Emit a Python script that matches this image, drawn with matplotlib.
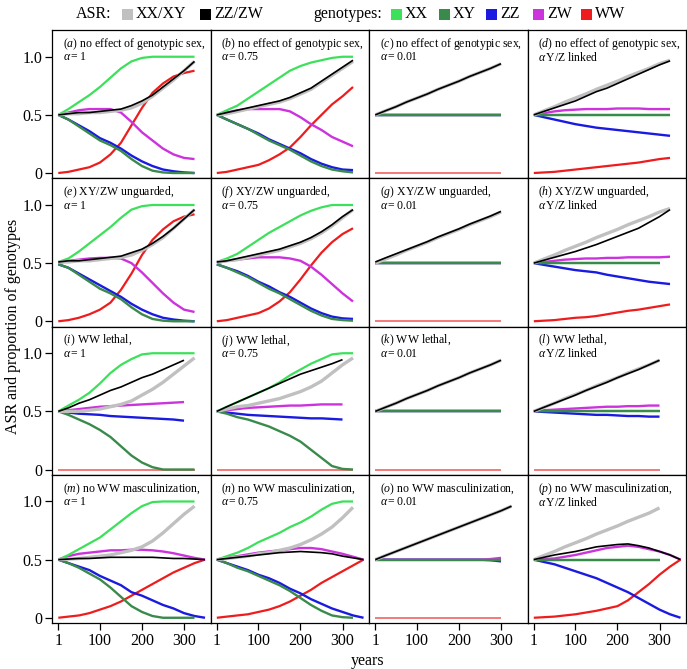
import matplotlib
matplotlib.use("Agg")
import matplotlib.pyplot as plt
from matplotlib.patches import Rectangle

plt.rcParams['font.family'] = 'Liberation Serif'
plt.rcParams['mathtext.fontset'] = 'custom'
plt.rcParams['mathtext.rm'] = 'Liberation Serif'
plt.rcParams['mathtext.it'] = 'Liberation Serif:italic'

# sampling years (series use the first n entries)
YEARS = [1, 25, 50, 75, 100, 125, 150, 175, 200, 225, 250, 275, 300, 325, 350]

# ---- (a) no effect of genotypic sex, alpha = 1
a_asr_x = [0.50, 0.51, 0.51, 0.52, 0.52, 0.53, 0.54, 0.56, 0.60, 0.66, 0.73, 0.80, 0.88, 0.96]
a_asr_z = [0.50, 0.51, 0.52, 0.52, 0.53, 0.54, 0.55, 0.58, 0.62, 0.67, 0.74, 0.81, 0.88, 0.96]
a_xx = [0.50, 0.55, 0.61, 0.67, 0.74, 0.82, 0.90, 0.96, 0.99, 1.0, 1.0, 1.0, 1.0, 1.0]
a_xy = [0.50, 0.46, 0.40, 0.34, 0.28, 0.24, 0.19, 0.12, 0.06, 0.02, 0.005, 0, 0, 0]
a_zz = [0.50, 0.46, 0.41, 0.36, 0.30, 0.26, 0.21, 0.15, 0.10, 0.06, 0.03, 0.015, 0.005, 0]
a_zw = [0.50, 0.52, 0.54, 0.55, 0.55, 0.55, 0.52, 0.44, 0.35, 0.28, 0.21, 0.16, 0.13, 0.12]
a_ww = [0, 0.01, 0.03, 0.05, 0.09, 0.16, 0.26, 0.41, 0.56, 0.69, 0.77, 0.83, 0.86, 0.88]

# ---- (b) no effect of genotypic sex, alpha = 0.75
b_asr_x = [0.50, 0.51, 0.53, 0.55, 0.57, 0.59, 0.61, 0.64, 0.68, 0.72, 0.78, 0.84, 0.90, 0.96]
b_asr_z = [0.50, 0.52, 0.54, 0.56, 0.58, 0.60, 0.62, 0.65, 0.69, 0.73, 0.79, 0.85, 0.91, 0.97]
b_xx = [0.50, 0.54, 0.58, 0.64, 0.70, 0.76, 0.82, 0.88, 0.92, 0.95, 0.97, 0.99, 1.0, 1.0]
b_xy = [0.50, 0.46, 0.42, 0.38, 0.33, 0.28, 0.24, 0.20, 0.15, 0.10, 0.06, 0.03, 0.015, 0.005]
b_zz = [0.50, 0.46, 0.42, 0.38, 0.34, 0.29, 0.25, 0.21, 0.17, 0.12, 0.08, 0.05, 0.03, 0.025]
b_zw = [0.50, 0.52, 0.54, 0.55, 0.55, 0.55, 0.55, 0.53, 0.48, 0.42, 0.37, 0.31, 0.27, 0.23]
b_ww = [0, 0.01, 0.03, 0.05, 0.07, 0.11, 0.16, 0.22, 0.31, 0.41, 0.50, 0.59, 0.66, 0.74]

# ---- (c) no effect of genotypic sex, alpha = 0.01
c_asr_x = [0.50, 0.535, 0.57, 0.61, 0.645, 0.68, 0.72, 0.755, 0.79, 0.83, 0.865, 0.90, 0.94]
c_asr_z = [0.50, 0.535, 0.57, 0.61, 0.645, 0.68, 0.72, 0.755, 0.79, 0.83, 0.865, 0.90, 0.94]
c_xx = [0.50, 0.50, 0.50, 0.50, 0.50, 0.50, 0.50, 0.50, 0.50, 0.50, 0.50, 0.50, 0.50]
c_xy = [0.50, 0.50, 0.50, 0.50, 0.50, 0.50, 0.50, 0.50, 0.50, 0.50, 0.50, 0.50, 0.50]
c_zz = [0.50, 0.50, 0.50, 0.50, 0.50, 0.50, 0.50, 0.50, 0.50, 0.50, 0.50, 0.50, 0.50]
c_zw = [0.50, 0.50, 0.50, 0.50, 0.50, 0.50, 0.50, 0.50, 0.50, 0.50, 0.50, 0.50, 0.50]
c_ww = [0, 0, 0, 0, 0, 0, 0, 0, 0, 0, 0, 0, 0]

# ---- (d) no effect of genotypic sex, alpha Y/Z linked
d_asr_x = [0.50, 0.535, 0.57, 0.61, 0.645, 0.68, 0.72, 0.755, 0.79, 0.83, 0.865, 0.90, 0.94, 0.97]
d_asr_z = [0.50, 0.53, 0.56, 0.59, 0.62, 0.66, 0.70, 0.73, 0.77, 0.81, 0.85, 0.89, 0.93, 0.965]
d_xx = [0.50, 0.50, 0.50, 0.50, 0.50, 0.50, 0.50, 0.50, 0.50, 0.50, 0.50, 0.50, 0.50, 0.50]
d_xy = [0.50, 0.50, 0.50, 0.50, 0.50, 0.50, 0.50, 0.50, 0.50, 0.50, 0.50, 0.50, 0.50, 0.50]
d_zz = [0.50, 0.48, 0.46, 0.44, 0.42, 0.405, 0.39, 0.38, 0.37, 0.36, 0.35, 0.34, 0.33, 0.32]
d_zw = [0.50, 0.515, 0.53, 0.54, 0.545, 0.55, 0.55, 0.55, 0.555, 0.555, 0.555, 0.55, 0.55, 0.55]
d_ww = [0, 0.005, 0.01, 0.02, 0.03, 0.04, 0.05, 0.06, 0.07, 0.08, 0.09, 0.105, 0.12, 0.13]

# ---- (e) XY/ZW unguarded, alpha = 1
e_asr_x = [0.51, 0.51, 0.52, 0.52, 0.53, 0.54, 0.55, 0.57, 0.61, 0.66, 0.72, 0.80, 0.88, 0.96]
e_asr_z = [0.51, 0.52, 0.52, 0.53, 0.54, 0.55, 0.56, 0.59, 0.62, 0.67, 0.73, 0.80, 0.88, 0.96]
e_xx = [0.51, 0.54, 0.60, 0.67, 0.74, 0.81, 0.89, 0.96, 0.99, 1.0, 1.0, 1.0, 1.0, 1.0]
e_xy = [0.49, 0.46, 0.40, 0.34, 0.28, 0.24, 0.19, 0.12, 0.06, 0.02, 0.005, 0, 0, 0]
e_zz = [0.49, 0.46, 0.41, 0.36, 0.31, 0.26, 0.21, 0.15, 0.10, 0.06, 0.03, 0.015, 0.005, 0]
e_zw = [0.50, 0.52, 0.53, 0.54, 0.545, 0.545, 0.54, 0.50, 0.42, 0.33, 0.24, 0.16, 0.10, 0.08]
e_ww = [0, 0.01, 0.03, 0.06, 0.10, 0.16, 0.27, 0.41, 0.57, 0.70, 0.79, 0.86, 0.90, 0.92]

# ---- (f) XY/ZW unguarded, alpha = 0.75
f_asr_x = [0.51, 0.52, 0.53, 0.55, 0.57, 0.59, 0.61, 0.64, 0.67, 0.71, 0.76, 0.82, 0.89, 0.96]
f_asr_z = [0.51, 0.52, 0.54, 0.56, 0.58, 0.60, 0.62, 0.65, 0.68, 0.72, 0.77, 0.83, 0.90, 0.96]
f_xx = [0.51, 0.54, 0.58, 0.64, 0.70, 0.76, 0.81, 0.86, 0.91, 0.95, 0.98, 1.0, 1.0, 1.0]
f_xy = [0.49, 0.46, 0.42, 0.38, 0.33, 0.28, 0.24, 0.19, 0.14, 0.09, 0.05, 0.02, 0.01, 0.005]
f_zz = [0.49, 0.46, 0.43, 0.39, 0.34, 0.30, 0.25, 0.21, 0.16, 0.11, 0.07, 0.04, 0.025, 0.02]
f_zw = [0.50, 0.52, 0.53, 0.54, 0.55, 0.55, 0.55, 0.54, 0.52, 0.47, 0.40, 0.32, 0.24, 0.17]
f_ww = [0, 0.01, 0.03, 0.05, 0.07, 0.11, 0.17, 0.25, 0.36, 0.48, 0.59, 0.68, 0.75, 0.80]

# ---- (g) XY/ZW unguarded, alpha = 0.01
g_asr_x = [0.50, 0.535, 0.57, 0.61, 0.645, 0.68, 0.72, 0.755, 0.79, 0.83, 0.865, 0.90, 0.94]
g_asr_z = [0.51, 0.545, 0.58, 0.615, 0.65, 0.685, 0.725, 0.76, 0.795, 0.835, 0.87, 0.905, 0.945]
g_xx = [0.50, 0.50, 0.50, 0.50, 0.50, 0.50, 0.50, 0.50, 0.50, 0.50, 0.50, 0.50, 0.50]
g_xy = [0.50, 0.50, 0.50, 0.50, 0.50, 0.50, 0.50, 0.50, 0.50, 0.50, 0.50, 0.50, 0.50]
g_zz = [0.50, 0.50, 0.50, 0.50, 0.50, 0.50, 0.50, 0.50, 0.50, 0.50, 0.50, 0.50, 0.50]
g_zw = [0.50, 0.50, 0.50, 0.50, 0.50, 0.50, 0.50, 0.50, 0.50, 0.50, 0.50, 0.50, 0.50]
g_ww = [0, 0, 0, 0, 0, 0, 0, 0, 0, 0, 0, 0, 0]

# ---- (h) XY/ZW unguarded, alpha Y/Z linked
h_asr_x = [0.50, 0.535, 0.57, 0.61, 0.645, 0.68, 0.72, 0.755, 0.79, 0.83, 0.865, 0.90, 0.94, 0.97]
h_asr_z = [0.50, 0.525, 0.55, 0.575, 0.60, 0.63, 0.66, 0.695, 0.73, 0.765, 0.80, 0.85, 0.90, 0.96]
h_xx = [0.50, 0.50, 0.50, 0.50, 0.50, 0.50, 0.50, 0.50, 0.50, 0.50, 0.50, 0.50, 0.50]
h_xy = [0.50, 0.50, 0.50, 0.50, 0.50, 0.50, 0.50, 0.50, 0.50, 0.50, 0.50, 0.50, 0.50]
h_zz = [0.50, 0.485, 0.47, 0.455, 0.44, 0.43, 0.42, 0.40, 0.385, 0.37, 0.355, 0.34, 0.33, 0.32]
h_zw = [0.50, 0.51, 0.52, 0.53, 0.535, 0.54, 0.54, 0.545, 0.545, 0.55, 0.55, 0.55, 0.55, 0.555]
h_ww = [0, 0.005, 0.01, 0.02, 0.03, 0.035, 0.045, 0.06, 0.075, 0.09, 0.10, 0.115, 0.13, 0.145]

# ---- (i) WW lethal, alpha = 1
i_asr_x = [0.50, 0.50, 0.50, 0.51, 0.52, 0.54, 0.56, 0.59, 0.64, 0.69, 0.75, 0.82, 0.89, 0.96]
i_asr_z = [0.50, 0.53, 0.57, 0.60, 0.64, 0.68, 0.71, 0.75, 0.79, 0.82, 0.86, 0.90, 0.94]
i_xx = [0.50, 0.55, 0.60, 0.66, 0.74, 0.83, 0.90, 0.95, 0.99, 1.0, 1.0, 1.0, 1.0, 1.0]
i_xy = [0.50, 0.47, 0.43, 0.39, 0.34, 0.28, 0.20, 0.12, 0.06, 0.02, 0.0, 0, 0, 0]
i_zz = [0.50, 0.49, 0.48, 0.475, 0.47, 0.46, 0.455, 0.45, 0.445, 0.44, 0.435, 0.43, 0.42]
i_zw = [0.50, 0.51, 0.52, 0.53, 0.54, 0.545, 0.55, 0.555, 0.56, 0.565, 0.57, 0.575, 0.58]
i_ww = [0, 0, 0, 0, 0, 0, 0, 0, 0, 0, 0, 0, 0, 0]

# ---- (j) WW lethal, alpha = 0.75
j_asr_x = [0.50, 0.52, 0.54, 0.55, 0.57, 0.59, 0.61, 0.64, 0.67, 0.71, 0.76, 0.83, 0.90, 0.96]
j_asr_z = [0.50, 0.54, 0.58, 0.62, 0.66, 0.70, 0.74, 0.78, 0.82, 0.85, 0.88, 0.91, 0.945]
j_xx = [0.50, 0.54, 0.58, 0.62, 0.66, 0.70, 0.75, 0.81, 0.86, 0.91, 0.95, 0.99, 1.0, 1.0]
j_xy = [0.50, 0.48, 0.45, 0.43, 0.40, 0.37, 0.33, 0.29, 0.24, 0.17, 0.10, 0.03, 0.005, 0]
j_zz = [0.50, 0.49, 0.48, 0.47, 0.465, 0.46, 0.455, 0.45, 0.445, 0.44, 0.44, 0.435, 0.43]
j_zw = [0.50, 0.51, 0.52, 0.53, 0.535, 0.54, 0.545, 0.55, 0.55, 0.555, 0.56, 0.56, 0.56]
j_ww = [0, 0, 0, 0, 0, 0, 0, 0, 0, 0, 0, 0, 0, 0]

# ---- (k) WW lethal, alpha = 0.01
k_asr_x = [0.50, 0.535, 0.57, 0.61, 0.645, 0.68, 0.72, 0.755, 0.79, 0.83, 0.865, 0.90, 0.94]
k_asr_z = [0.50, 0.535, 0.57, 0.61, 0.645, 0.68, 0.72, 0.755, 0.79, 0.83, 0.865, 0.90, 0.94]
k_xx = [0.50, 0.50, 0.50, 0.50, 0.50, 0.50, 0.50, 0.50, 0.50, 0.50, 0.50, 0.50, 0.50]
k_xy = [0.50, 0.50, 0.50, 0.50, 0.50, 0.50, 0.50, 0.50, 0.50, 0.50, 0.50, 0.50, 0.50]
k_zz = [0.50, 0.50, 0.50, 0.50, 0.50, 0.50, 0.50, 0.50, 0.50, 0.50, 0.50, 0.50, 0.50]
k_zw = [0.50, 0.50, 0.50, 0.50, 0.50, 0.50, 0.50, 0.50, 0.50, 0.50, 0.50, 0.50, 0.50]
k_ww = [0, 0, 0, 0, 0, 0, 0, 0, 0, 0, 0, 0, 0]

# ---- (l) WW lethal, alpha Y/Z linked
l_asr_x = [0.50, 0.535, 0.57, 0.61, 0.645, 0.68, 0.72, 0.755, 0.79, 0.83, 0.865, 0.90, 0.94]
l_asr_z = [0.50, 0.535, 0.57, 0.605, 0.64, 0.68, 0.715, 0.75, 0.79, 0.825, 0.86, 0.90, 0.94]
l_xx = [0.50, 0.50, 0.50, 0.50, 0.50, 0.50, 0.50, 0.50, 0.50, 0.50, 0.50, 0.50, 0.50]
l_xy = [0.50, 0.50, 0.50, 0.50, 0.50, 0.50, 0.50, 0.50, 0.50, 0.50, 0.50, 0.50, 0.50]
l_zz = [0.50, 0.495, 0.49, 0.485, 0.48, 0.475, 0.47, 0.47, 0.465, 0.46, 0.46, 0.455, 0.455]
l_zw = [0.50, 0.51, 0.515, 0.52, 0.525, 0.53, 0.535, 0.54, 0.54, 0.545, 0.545, 0.55, 0.55]
l_ww = [0, 0, 0, 0, 0, 0, 0, 0, 0, 0, 0, 0, 0]

# ---- (m) no WW masculinization, alpha = 1
m_asr_x = [0.50, 0.505, 0.51, 0.52, 0.53, 0.54, 0.56, 0.58, 0.61, 0.66, 0.73, 0.81, 0.89, 0.96]
m_asr_z = [0.50, 0.505, 0.51, 0.51, 0.515, 0.52, 0.52, 0.52, 0.52, 0.52, 0.515, 0.51, 0.51, 0.505, 0.50]
m_xx = [0.50, 0.54, 0.59, 0.64, 0.69, 0.76, 0.83, 0.90, 0.96, 0.995, 1.0, 1.0, 1.0, 1.0]
m_xy = [0.50, 0.47, 0.43, 0.38, 0.33, 0.26, 0.18, 0.10, 0.05, 0.015, 0.0, 0, 0, 0]
m_zz = [0.50, 0.47, 0.44, 0.41, 0.36, 0.32, 0.28, 0.22, 0.19, 0.15, 0.11, 0.08, 0.04, 0.015, 0.0]
m_zw = [0.50, 0.53, 0.55, 0.56, 0.57, 0.58, 0.58, 0.585, 0.585, 0.58, 0.57, 0.555, 0.535, 0.515, 0.50]
m_ww = [0, 0.01, 0.02, 0.04, 0.07, 0.10, 0.14, 0.19, 0.24, 0.29, 0.34, 0.39, 0.43, 0.47, 0.50]

# ---- (n) no WW masculinization, alpha = 0.75
n_asr_x = [0.50, 0.51, 0.52, 0.53, 0.55, 0.56, 0.58, 0.60, 0.63, 0.67, 0.72, 0.78, 0.86, 0.95]
n_asr_z = [0.50, 0.51, 0.52, 0.53, 0.54, 0.55, 0.56, 0.565, 0.57, 0.565, 0.56, 0.55, 0.53, 0.515, 0.50]
n_xx = [0.50, 0.53, 0.56, 0.60, 0.65, 0.69, 0.73, 0.78, 0.82, 0.87, 0.93, 0.98, 1.0, 1.0]
n_xy = [0.50, 0.47, 0.43, 0.40, 0.36, 0.32, 0.28, 0.23, 0.17, 0.11, 0.06, 0.02, 0.005, 0]
n_zz = [0.50, 0.47, 0.44, 0.41, 0.37, 0.34, 0.30, 0.25, 0.21, 0.16, 0.12, 0.08, 0.05, 0.02, 0.0]
n_zw = [0.50, 0.52, 0.53, 0.545, 0.56, 0.57, 0.58, 0.59, 0.60, 0.60, 0.59, 0.57, 0.55, 0.525, 0.50]
n_ww = [0, 0.01, 0.02, 0.03, 0.05, 0.07, 0.10, 0.14, 0.19, 0.24, 0.30, 0.35, 0.40, 0.45, 0.50]

# ---- (o) no WW masculinization, alpha = 0.01
o_asr_x = [0.50, 0.535, 0.57, 0.605, 0.64, 0.675, 0.71, 0.745, 0.78, 0.815, 0.85, 0.885, 0.92, 0.96]
o_asr_z = [0.50, 0.535, 0.57, 0.605, 0.64, 0.675, 0.71, 0.745, 0.78, 0.815, 0.85, 0.885, 0.92, 0.96]
o_xx = [0.50, 0.50, 0.50, 0.50, 0.50, 0.50, 0.50, 0.50, 0.50, 0.50, 0.50, 0.50, 0.50]
o_xy = [0.50, 0.50, 0.50, 0.50, 0.50, 0.50, 0.50, 0.50, 0.50, 0.50, 0.50, 0.50, 0.50]
o_zz = [0.50, 0.50, 0.50, 0.50, 0.50, 0.50, 0.50, 0.50, 0.50, 0.50, 0.50, 0.495, 0.485]
o_zw = [0.50, 0.50, 0.50, 0.50, 0.50, 0.50, 0.50, 0.50, 0.50, 0.50, 0.50, 0.505, 0.515]
o_ww = [0, 0, 0, 0, 0, 0, 0, 0, 0, 0, 0, 0, 0]

# ---- (p) no WW masculinization, alpha Y/Z linked
p_asr_x = [0.50, 0.535, 0.57, 0.61, 0.645, 0.68, 0.72, 0.755, 0.79, 0.83, 0.865, 0.90, 0.945]
p_asr_z = [0.50, 0.52, 0.54, 0.555, 0.57, 0.59, 0.61, 0.62, 0.63, 0.635, 0.62, 0.60, 0.57, 0.54, 0.50]
p_xx = [0.50, 0.50, 0.50, 0.50, 0.50, 0.50, 0.50, 0.50, 0.50, 0.50, 0.50, 0.50, 0.50]
p_xy = [0.50, 0.50, 0.50, 0.50, 0.50, 0.50, 0.50, 0.50, 0.50, 0.50, 0.50, 0.50, 0.50]
p_zz = [0.50, 0.48, 0.46, 0.43, 0.40, 0.37, 0.34, 0.30, 0.26, 0.22, 0.17, 0.12, 0.07, 0.03, 0.0]
p_zw = [0.50, 0.505, 0.51, 0.525, 0.54, 0.56, 0.58, 0.60, 0.61, 0.62, 0.61, 0.59, 0.57, 0.54, 0.50]
p_ww = [0, 0.005, 0.01, 0.02, 0.03, 0.045, 0.06, 0.08, 0.10, 0.15, 0.22, 0.29, 0.37, 0.44, 0.50]

labels = list("abcdefghijklmnop")
row_titles = ["no effect of genotypic sex,", "XY/ZW unguarded,", "WW lethal,",
              "no WW masculinization,"]
col_alpha = [r"$\alpha = 1$", r"$\alpha = 0.75$", r"$\alpha = 0.01$", r"$\alpha\,$Y/Z linked"]

# colours
C_ASRX = "#c0c0c0"
C_ASRZ = "#000000"
C_XX = "#3ce05a"
C_XY = "#3a8a4c"
C_ZZ = "#1a1ae0"
C_ZW = "#cc33dd"
C_WW = "#ee1c1c"

SERIF = "Liberation Serif"
g = globals()
W, H = 687, 669
fig = plt.figure(figsize=(W / 100, H / 100), dpi=100)
gs = fig.add_gridspec(4, 4, left=52 / W, right=686 / W, top=1 - 30 / H, bottom=1 - 623 / H,
                      wspace=0, hspace=0)

for k, lab in enumerate(labels):
    r, c = divmod(k, 4)
    ax = fig.add_subplot(gs[r, c])
    # drawing order: genotypes first, ASR on top
    series = [(lab + "_ww", C_WW, 1.6), (lab + "_zz", C_ZZ, 1.7), (lab + "_zw", C_ZW, 1.7),
              (lab + "_xx", C_XX, 1.6), (lab + "_xy", C_XY, 1.7),
              (lab + "_asr_x", C_ASRX, 2.4), (lab + "_asr_z", C_ASRZ, 1.2)]
    for name, col, lw in series:
        vals = g[name]
        alpha = 1.0
        if name.endswith("_ww") and max(vals) == 0:
            lw, alpha = 1.1, 0.75
        ax.plot(YEARS[:len(vals)], vals, color=col, lw=lw, alpha=alpha,
                solid_capstyle="butt")
    ax.set_xlim(-14, 363)
    ax.set_ylim(-0.045, 1.23)
    for s in ax.spines.values():
        s.set_linewidth(0.9)
    if c == 0:
        ax.set_yticks([0, 0.5, 1.0])
        ax.set_yticklabels(["0", "0.5", "1.0"], fontsize=11.5, fontfamily=SERIF)
        ax.tick_params(axis="y", length=5, width=0.9, pad=2)
    else:
        ax.set_yticks([])
    if r == 3:
        ax.set_xticks([1, 100, 200, 300])
        ax.set_xticklabels(["1", "100", "200", "300"], fontsize=11.5, fontfamily=SERIF)
        ax.tick_params(axis="x", length=5, width=0.9, pad=2)
    else:
        ax.set_xticks([])
    ax.text(0.068, 0.905, r"$(%s)$ " % lab + row_titles[r], transform=ax.transAxes,
            fontsize=8.5, ha="left", va="center")
    ax.text(0.068, 0.815, col_alpha[c], transform=ax.transAxes,
            fontsize=8.5, ha="left", va="center")

fig.text(13 / W, 1 - 326 / H, "ASR and proportion of genotypes", rotation=90,
         ha="center", va="center", fontsize=11.5)
fig.text(368 / W, 1 - 661 / H, "years", ha="center", va="center", fontsize=11.5)

# legend strip on top
ly = 14
def square(x, col):
    fig.add_artist(Rectangle((x / W, 1 - (ly + 6) / H), 11 / W, 11 / H,
                             transform=fig.transFigure, color=col, lw=0))

fig.text(76 / W, 1 - ly / H, "ASR:", ha="left", va="center", fontsize=11.5)
square(122, C_ASRX)
fig.text(136 / W, 1 - ly / H, "XX/XY", ha="left", va="center", fontsize=11.5)
square(200, C_ASRZ)
fig.text(214 / W, 1 - ly / H, "ZZ/ZW", ha="left", va="center", fontsize=11.5)
fig.text(313 / W, 1 - ly / H, "genotypes:", ha="left", va="center", fontsize=11.5)
for x, col, name in [(391, C_XX, "XX"), (439, C_XY, "XY"), (486, C_ZZ, "ZZ"),
                     (533, C_ZW, "ZW"), (581, C_WW, "WW")]:
    square(x, col)
    fig.text((x + 14) / W, 1 - ly / H, name, ha="left", va="center", fontsize=11.5)

fig.savefig("out.png", dpi=100)
